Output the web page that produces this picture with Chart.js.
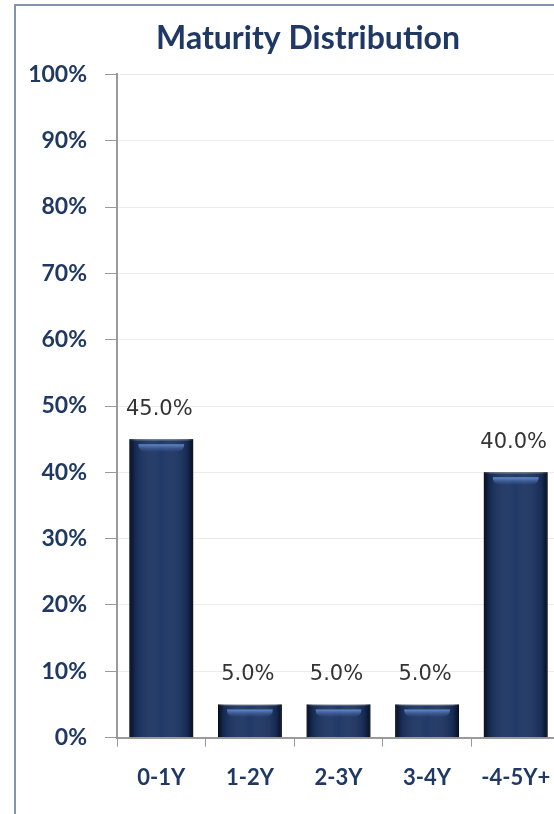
<!DOCTYPE html>
<html>
<head>
<meta charset="utf-8">
<script src="https://cdn.jsdelivr.net/npm/chart.js@4.4.1/dist/chart.umd.min.js"></script>
<style>
  html, body { margin: 0; padding: 0; background: #fff; overflow: hidden; }
  #frame { position: absolute; left: 14px; top: 4px; width: 700px; height: 900px;
           border-left: 2px solid #8494ab; border-top: 2px solid #8494ab; }
  #wrap { position: absolute; left: 0; top: 0; width: 616px; height: 814px; }
</style>
</head>
<body>
<div id="frame"></div>
<div id="wrap"><canvas id="chart"></canvas></div>
<script>
// ─── Data ───
const categories = ['0-1Y', '1-2Y', '2-3Y', '3-4Y', '-4-5Y+'];
const shares = [45, 5, 5, 5, 40];
const yTicks = [0, 10, 20, 30, 40, 50, 60, 70, 80, 90, 100];

const NAVY = '#1f3864';

// bevel + highlight on each bar, like the Excel style
const barShine = {
    id: 'barShine',
    afterDatasetsDraw(chart) {
        const ctx = chart.ctx;
        chart.getDatasetMeta(0).data.forEach(bar => {
            const { x, y, base, width } = bar.getProps(['x', 'y', 'base', 'width'], true);
            const l = x - width / 2, r = x + width / 2;
            const g = ctx.createLinearGradient(l, 0, r, 0);
            g.addColorStop(0, 'rgba(3,8,22,0.85)');
            g.addColorStop(0.1, 'rgba(3,8,22,0.2)');
            g.addColorStop(0.5, 'rgba(255,255,255,0.02)');
            g.addColorStop(0.9, 'rgba(3,8,22,0.2)');
            g.addColorStop(1, 'rgba(3,8,22,0.85)');
            ctx.save();
            ctx.fillStyle = g;
            ctx.fillRect(l, y, width, base - y);
            // top highlight
            const hl = l + 9, hr = r - 9, hy = y + 5;
            const hg = ctx.createLinearGradient(0, hy, 0, hy + 8);
            hg.addColorStop(0, 'rgba(110,150,215,0.9)');
            hg.addColorStop(1, 'rgba(50,85,150,0.1)');
            ctx.fillStyle = hg;
            ctx.beginPath();
            ctx.moveTo(hl, hy);
            ctx.lineTo(hr, hy);
            ctx.quadraticCurveTo(hr, hy + 7, hr - 7, hy + 7);
            ctx.lineTo(hl + 7, hy + 7);
            ctx.quadraticCurveTo(hl, hy + 7, hl, hy);
            ctx.fill();
            ctx.restore();
        });
    }
};

// value labels above bars
const valueLabels = {
    id: 'valueLabels',
    afterDatasetsDraw(chart) {
        const ctx = chart.ctx;
        const ds = chart.data.datasets[0];
        ctx.save();
        ctx.font = '21px "DejaVu Sans"';
        ctx.fillStyle = '#333333';
        ctx.textAlign = 'center';
        ctx.textBaseline = 'middle';
        chart.getDatasetMeta(0).data.forEach((bar, i) => {
            ctx.fillText(ds.data[i].toFixed(1) + '%', bar.x - 2, bar.y - 30);
        });
        ctx.restore();
    }
};

new Chart(document.getElementById('chart'), {
    type: 'bar',
    data: {
        labels: categories,
        datasets: [{
            label: 'Maturity',
            data: shares,
            backgroundColor: '#1c3564',
            borderColor: '#0a1630',
            borderWidth: 1,
            categoryPercentage: 1,
            barPercentage: 0.72
        }]
    },
    options: {
        responsive: true, maintainAspectRatio: false,
        animation: false,
        layout: { padding: { left: 0, right: 0, top: 0, bottom: 5 } },
        plugins: {
            legend: { display: false },
            tooltip: { enabled: false },
            title: {
                display: true,
                text: 'Maturity Distribution',
                color: NAVY,
                font: { family: 'Lato', size: 32, weight: 'bold' },
                padding: { top: 19, bottom: 17 }
            }
        },
        scales: {
            x: {
                grid: { drawOnChartArea: false, drawTicks: true, tickLength: 9, tickColor: '#9a9a9a', offset: true },
                border: { color: '#9a9a9a', width: 2 },
                ticks: { color: NAVY, font: { family: 'Lato', size: 22, weight: 'bold' }, padding: 18 }
            },
            y: {
                min: 0, max: 100,
                afterBuildTicks: s => { s.ticks = yTicks.map(v => ({ value: v })); },
                afterFit: s => { s.width = 117; },
                grid: { color: '#ececec', tickLength: 12, tickColor: '#9a9a9a' },
                border: { color: '#9a9a9a', width: 2 },
                ticks: {
                    color: NAVY, padding: 18,
                    font: { family: 'Lato', size: 23, weight: 'bold' },
                    callback: v => v + '%'
                }
            },
            // empty spacer on the right so the plot ends past the window edge
            yRight: {
                position: 'right', min: 0, max: 100,
                grid: { display: false },
                border: { display: false },
                ticks: { display: false },
                afterFit: s => { s.width = 56; }
            }
        }
    },
    plugins: [barShine, valueLabels]
});
</script>
</body>
</html>
